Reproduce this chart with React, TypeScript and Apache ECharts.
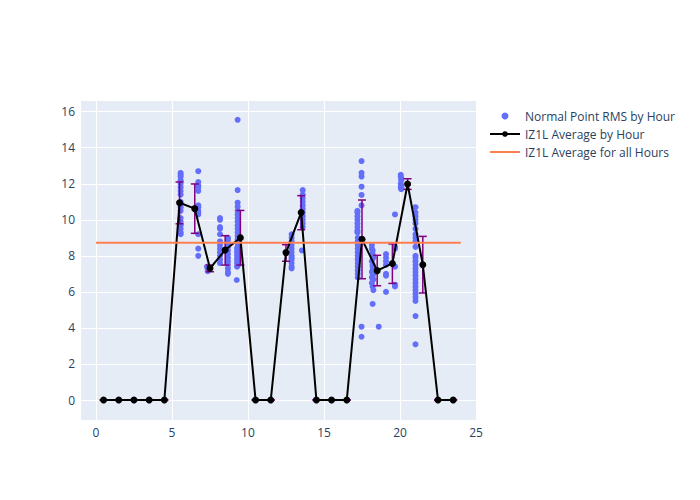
import React, { useEffect, useRef } from "react";
import * as echarts from "echarts";

// Hourly averages (x = hour + 0.5)
const avgHours = [0.5, 1.5, 2.5, 3.5, 4.5, 5.5, 6.5, 7.5, 8.5, 9.5, 10.5, 11.5, 12.5, 13.5, 14.5, 15.5, 16.5, 17.5, 18.5, 19.5, 20.5, 21.5, 22.5, 23.5];
const avgValues = [0, 0, 0, 0, 0, 10.95, 10.62, 7.31, 8.32, 9.01, 0, 0, 8.18, 10.41, 0, 0, 0, 8.92, 7.18, 7.58, 11.99, 7.51, 0, 0];
const errLow = [0, 0, 0, 0, 0, 9.78, 9.25, 7.12, 7.49, 7.49, 0, 0, 7.7, 9.45, 0, 0, 0, 6.73, 6.34, 6.47, 11.69, 5.94, 0, 0];
const errHigh = [0, 0, 0, 0, 0, 12.1, 11.99, 7.49, 9.12, 10.52, 0, 0, 8.62, 11.34, 0, 0, 0, 11.1, 8.03, 8.66, 12.28, 9.08, 0, 0];

// Overall average
const overallAvg = 8.73;
const overallSpan = [0, 24];

// Normal point RMS values [hour, rms]
const normalPoints: [number, number][] = [
  [5.57, 12.6], [5.57, 12.5], [5.57, 12.4], [5.57, 12.2], [5.57, 12.0], [5.57, 11.8], [5.57, 11.6], [5.57, 11.4],
  [5.57, 11.0], [5.57, 10.9], [5.57, 10.7], [5.57, 10.5], [5.57, 10.1], [5.57, 9.9], [5.57, 9.7], [5.57, 9.5],
  [5.57, 9.3], [5.57, 9.2],
  [6.73, 12.7], [6.73, 12.1], [6.73, 11.9], [6.73, 11.8], [6.73, 11.6], [6.73, 10.8], [6.73, 10.7], [6.73, 10.5],
  [6.73, 10.4], [6.73, 10.3], [6.73, 9.2], [6.73, 8.4], [6.73, 8.0],
  [7.3, 7.4], [7.35, 7.3], [7.35, 7.15],
  [8.16, 10.1], [8.16, 10.0], [8.16, 9.6], [8.16, 9.5], [8.16, 9.2], [8.16, 8.8], [8.16, 8.6], [8.16, 8.4],
  [8.16, 8.2], [8.16, 8.0], [8.16, 7.8], [8.16, 7.6],
  [8.68, 9.0], [8.68, 8.9], [8.68, 8.7], [8.68, 8.5], [8.68, 8.3], [8.68, 8.1], [8.68, 7.9], [8.68, 7.7],
  [8.68, 7.5], [8.68, 7.3], [8.68, 7.1], [8.68, 7.0],
  [9.32, 15.55], [9.32, 11.65], [9.32, 10.95], [9.32, 10.73], [9.32, 10.5], [9.32, 10.3], [9.32, 10.1], [9.32, 9.9],
  [9.32, 9.7], [9.32, 9.5], [9.32, 9.3], [9.32, 9.1], [9.32, 8.9], [9.32, 8.7], [9.32, 8.5], [9.32, 8.3],
  [9.32, 8.1], [9.32, 7.9], [9.32, 7.7], [9.32, 7.5], [9.28, 7.4], [9.28, 7.6], [9.28, 7.8], [9.28, 8.0],
  [9.28, 8.2], [9.28, 8.4], [9.36, 7.5], [9.36, 7.7], [9.26, 6.66],
  [12.87, 9.2], [12.87, 9.0], [12.87, 8.8], [12.87, 8.6], [12.87, 8.4], [12.87, 8.2], [12.87, 8.0], [12.87, 7.9],
  [12.87, 7.8], [12.87, 7.6], [12.87, 7.4], [12.87, 7.3],
  [13.6, 11.65], [13.6, 11.2], [13.6, 11.0], [13.6, 10.8], [13.6, 10.6], [13.6, 10.4], [13.6, 10.2], [13.6, 10.0],
  [13.6, 9.8], [13.6, 9.6], [13.6, 11.4], [13.55, 8.3],
  [17.47, 13.26], [17.47, 12.61], [17.47, 12.4], [17.47, 11.84], [17.47, 11.38], [17.47, 10.8],
  [17.2, 10.5], [17.2, 10.4], [17.2, 10.2], [17.2, 10.0], [17.2, 9.8], [17.2, 9.6], [17.2, 9.4], [17.2, 9.3],
  [17.22, 9.0], [17.22, 8.8], [17.22, 8.6], [17.22, 8.4], [17.22, 8.2], [17.22, 8.0], [17.22, 7.8], [17.22, 7.6],
  [17.22, 7.4], [17.22, 7.2], [17.22, 7.0], [17.22, 6.8], [17.47, 4.07], [17.47, 3.51],
  [18.15, 8.6], [18.15, 8.4], [18.2, 8.3], [18.2, 8.1], [18.25, 7.9], [18.15, 7.7], [18.2, 7.5], [18.25, 7.3],
  [18.15, 7.1], [18.2, 6.9], [18.25, 6.7], [18.15, 6.5], [18.2, 6.3], [18.25, 6.1], [18.2, 7.2], [18.25, 7.0],
  [18.15, 6.8], [18.2, 7.4], [18.2, 5.33], [18.6, 4.07],
  [19.08, 8.1], [19.08, 7.9], [19.08, 7.7], [19.08, 7.5], [19.08, 7.0], [19.08, 6.9], [19.08, 6.0],
  [19.67, 10.3], [19.67, 8.5], [19.67, 8.4], [19.67, 7.4], [19.67, 6.4], [19.67, 6.3],
  [20.05, 12.5], [20.05, 12.4], [20.08, 12.3], [20.08, 12.2], [20.05, 12.0], [20.08, 11.9], [20.05, 11.8],
  [20.08, 11.7], [20.1, 11.8],
  [21.02, 10.7], [21.02, 10.4], [21.02, 10.2], [21.02, 10.0], [21.02, 9.8], [21.02, 9.5], [21.02, 9.2], [21.02, 9.0],
  [21.02, 8.8], [21.02, 8.5], [21.02, 8.0], [21.02, 7.9], [21.02, 7.7], [21.02, 7.5], [21.02, 7.3], [21.02, 7.1],
  [21.02, 6.9], [21.02, 6.7], [21.02, 6.5], [21.02, 6.3], [21.02, 6.1], [21.02, 5.9], [21.02, 5.7], [21.02, 5.5],
  [21.02, 4.66], [21.02, 3.09],
];

// Axis ranges and tick steps
const xRange = [-1.05, 25];
const xStep = 5;
const yRange = [-1.11, 16.65];
const yStep = 2;

const FONT = "'Open Sans', Verdana, Arial, sans-serif";
const TEXT = "#2a3f5f";

export default function App() {
  const ref = useRef<HTMLDivElement>(null);
  useEffect(() => {
    if (!ref.current) return;
    const chart = echarts.init(ref.current, null, { renderer: "svg" });
    const errData = avgHours.map((h, i) => [h, errLow[i], errHigh[i]]);
    chart.setOption({
      animation: false,
      backgroundColor: "#ffffff",
      textStyle: { fontFamily: FONT, color: TEXT },
      grid: { left: 80, right: 224, top: 100, bottom: 80, show: true, backgroundColor: "#e5ecf6", borderWidth: 0 },
      legend: {
        orient: "vertical",
        left: 484,
        top: 105,
        itemWidth: 30,
        itemHeight: 7,
        itemGap: 6,
        textStyle: { fontFamily: FONT, fontSize: 12, color: TEXT },
        data: [
          { name: "Normal Point RMS by Hour" },
          { name: "IZ1L Average by Hour" },
          { name: "IZ1L Average for all Hours", icon: "path://M0,0L30,0L30,2L0,2Z" },
        ],
      },
      xAxis: {
        type: "value",
        min: xRange[0],
        max: xRange[1],
        minInterval: xStep,
        maxInterval: xStep,
        axisLine: { show: false, onZero: false },
        axisTick: { show: false },
        axisLabel: { showMinLabel: false, color: TEXT, fontSize: 12, fontFamily: FONT, margin: 6 },
        splitLine: { show: true, interval: 0, lineStyle: { color: "#ffffff", width: 1 } },
      },
      yAxis: {
        type: "value",
        min: yRange[0],
        max: yRange[1],
        minInterval: yStep,
        maxInterval: yStep,
        axisLine: { show: false, onZero: false },
        axisTick: { show: false },
        axisLabel: { showMinLabel: false, showMaxLabel: false, color: TEXT, fontSize: 12, fontFamily: FONT, margin: 5 },
        splitLine: { show: true, interval: 0, lineStyle: { color: "#ffffff", width: 1 } },
      },
      series: [
        {
          name: "Normal Point RMS by Hour",
          type: "scatter",
          data: normalPoints,
          symbol: "circle",
          symbolSize: 6,
          itemStyle: { color: "#636efa", opacity: 1 },
          z: 2,
        },
        {
          name: "errorbars",
          type: "custom",
          data: errData,
          z: 3,
          renderItem: (params: any, api: any) => {
            const x = api.value(0);
            const lo = api.coord([x, api.value(1)]);
            const hi = api.coord([x, api.value(2)]);
            const w = 4;
            const style = { stroke: "#800080", lineWidth: 1.5 };
            return {
              type: "group",
              children: [
                { type: "line", shape: { x1: lo[0], y1: lo[1], x2: hi[0], y2: hi[1] }, style },
                { type: "line", shape: { x1: lo[0] - w, y1: lo[1], x2: lo[0] + w, y2: lo[1] }, style },
                { type: "line", shape: { x1: hi[0] - w, y1: hi[1], x2: hi[0] + w, y2: hi[1] }, style },
              ],
            };
          },
        },
        {
          name: "IZ1L Average by Hour",
          type: "line",
          data: avgHours.map((h, i) => [h, avgValues[i]]),
          symbol: "circle",
          symbolSize: 7,
          showSymbol: true,
          lineStyle: { color: "#000000", width: 2 },
          itemStyle: { color: "#000000" },
          z: 4,
        },
        {
          name: "IZ1L Average for all Hours",
          type: "line",
          data: overallSpan.map((h) => [h, overallAvg]),
          symbol: "none",
          lineStyle: { color: "#ff7f50", width: 2 },
          itemStyle: { color: "#ff7f50" },
          z: 5,
        },
      ],
    });
    return () => chart.dispose();
  }, []);
  return <div ref={ref} style={{ width: 700, height: 500, position: "absolute", left: 0, top: 0 }} />;
}
